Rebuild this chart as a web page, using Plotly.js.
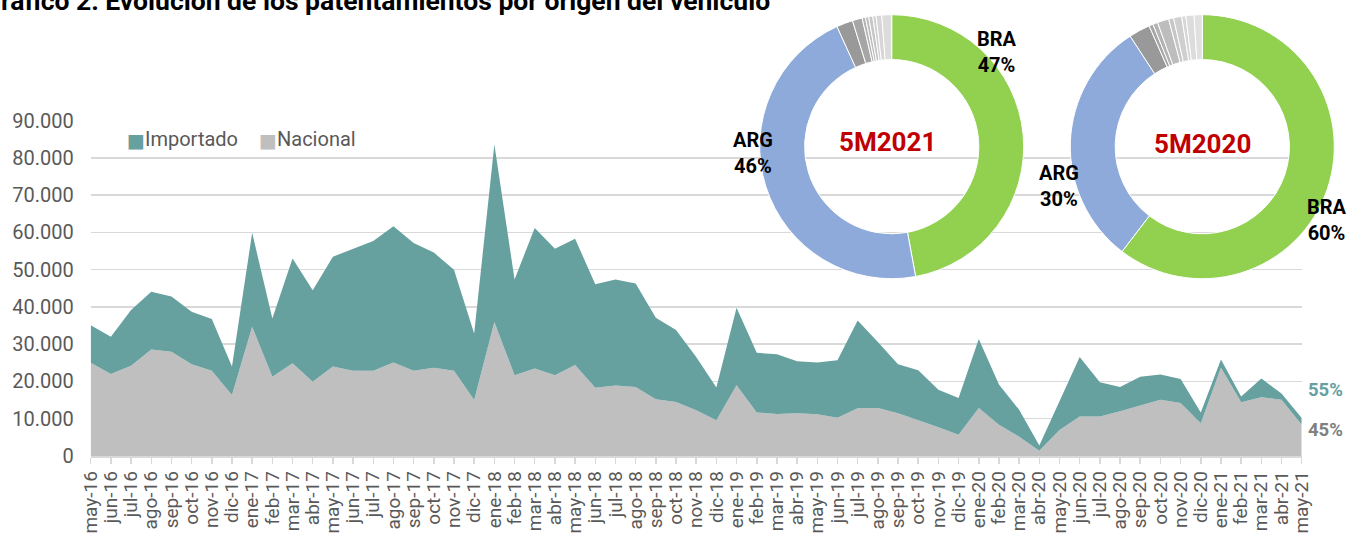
<!DOCTYPE html>
<html><head><meta charset="utf-8">
<script src="https://cdn.plot.ly/plotly-3.0.1.min.js"></script>
<style>html,body{margin:0;padding:0;background:#fff;overflow:hidden}</style>
</head><body><div id="chart" style="width:1347px;height:535px"></div>
<script>
const months = ['may-16','jun-16','jul-16','ago-16','sep-16','oct-16','nov-16','dic-16',
 'ene-17','feb-17','mar-17','abr-17','may-17','jun-17','jul-17','ago-17','sep-17','oct-17','nov-17','dic-17',
 'ene-18','feb-18','mar-18','abr-18','may-18','jun-18','jul-18','ago-18','sep-18','oct-18','nov-18','dic-18',
 'ene-19','feb-19','mar-19','abr-19','may-19','jun-19','jul-19','ago-19','sep-19','oct-19','nov-19','dic-19',
 'ene-20','feb-20','mar-20','abr-20','may-20','jun-20','jul-20','ago-20','sep-20','oct-20','nov-20','dic-20',
 'ene-21','feb-21','mar-21','abr-21','may-21'];
const nacional = [25000,22000,24200,28600,28000,24600,22900,16400,
 34700,21300,24900,19900,24000,22900,22900,25100,22900,23700,22900,15000,
 36000,21700,23500,21700,24400,18300,18900,18500,15200,14500,12300,9600,
 19000,11700,11300,11500,11200,10300,12800,12900,11500,9700,7700,5700,
 12900,8400,5200,1400,7000,10600,10600,12000,13500,15100,14200,8800,
 23700,14400,15800,15100,8400];
const importado = [10100,10000,15000,15500,14800,14100,13900,7600,
 25200,15600,28100,24600,29500,32600,34800,36600,34300,30900,27100,17900,
 47600,25700,37700,33900,33900,27800,28500,27800,21900,19300,14300,8800,
 20800,16000,16000,13900,13900,15400,23600,17700,13100,13300,10100,9900,
 18500,10800,7200,1400,7700,16000,9200,6500,7800,6800,6500,2900,
 2200,1600,5000,1700,1800];
const seriesNames = ['Nacional','Importado'];
const seriesColors = ['#bfbfbf','#66a09f'];

const pie2021Labels = ['BRA','ARG','O1','O2','O3','O4','O5','O6','O7','O8'];
const pie2021Values = [47.1,46.1,2.0,1.2,0.4,0.4,0.5,0.4,0.7,1.2];
const pie2020Labels = ['BRA','ARG','O1','O2','O3','O4','O5','O6','O7','O8','O9'];
const pie2020Values = [60.4,30.4,2.6,0.5,0.6,1.4,0.6,1.0,0.5,1.0,1.0];
const pieColors = ['#92d050','#8eaadb','#999999','#a6a6a6','#b3b3b3','#bdbdbd','#c6c6c6','#cfcfcf','#d6d6d6','#dcdcdc','#e0e0e0'];
const endLabels = ['55%','45%'];
const endColors = ['#66a09f','#808080'];

const W = 1347, H = 535;
const px = x => x / W;
const py = y => (H - y) / H;
const FONT = 'Roboto, "Liberation Sans", sans-serif';

const traces = [
  {x: months, y: nacional, name: seriesNames[0], type: 'scatter', mode: 'lines', stackgroup: 'one',
   line: {width: 0}, fillcolor: seriesColors[0], showlegend: false, hoverinfo: 'x+y'},
  {x: months, y: importado, name: seriesNames[1], type: 'scatter', mode: 'lines', stackgroup: 'one',
   line: {width: 0}, fillcolor: seriesColors[1], showlegend: false, hoverinfo: 'x+y'},
  {type: 'pie', labels: pie2021Labels, values: pie2021Values, sort: false, direction: 'clockwise', rotation: 0,
   hole: 0.66, textinfo: 'none', marker: {colors: pieColors, line: {color: '#ffffff', width: 1}},
   domain: {x: [px(759.7), px(1023.7)], y: [py(278.7), py(14.7)]}, showlegend: false},
  {type: 'pie', labels: pie2020Labels, values: pie2020Values, sort: false, direction: 'clockwise', rotation: 0,
   hole: 0.66, textinfo: 'none', marker: {colors: pieColors, line: {color: '#ffffff', width: 1}},
   domain: {x: [px(1070.3), px(1334.3)], y: [py(278.7), py(14.7)]}, showlegend: false}
];

const lblFont = {family: FONT, size: 20, color: '#000000'};
function pieLbl(lab, val, x, y) {
  return {text: '<b>' + lab + '<br>' + Math.round(val) + '%</b>', xref: 'paper', yref: 'paper',
    x: px(x), y: py(y), xanchor: 'center', yanchor: 'middle', showarrow: false, font: lblFont, align: 'center'};
}
function legSwatch(color, x, y) {
  return {text: '■', xref: 'paper', yref: 'paper', x: px(x), y: py(y), xanchor: 'center', yanchor: 'middle',
    showarrow: false, font: {family: '"DejaVu Sans", sans-serif', size: 19, color: color}};
}
function legText(t, x, y) {
  return {text: t, xref: 'paper', yref: 'paper', x: px(x), y: py(y), xanchor: 'left', yanchor: 'middle',
    showarrow: false, font: {family: FONT, size: 20, color: '#595959'}};
}
const annotations = [
  {text: '<b>Gráfico 2: Evolución de los patentamientos por origen del vehículo</b>', xref: 'paper', yref: 'paper',
   x: px(-19), y: py(0), xanchor: 'left', yanchor: 'middle', showarrow: false,
   font: {family: '"Liberation Sans Narrow", "Arial Narrow", Roboto, sans-serif', size: 26.5, color: '#000000'}},
  legSwatch(seriesColors[1], 136, 139.5), legText(seriesNames[1], 143, 139),
  legSwatch(seriesColors[0], 268, 139.5), legText(seriesNames[0], 275, 139),
  pieLbl(pie2021Labels[0], pie2021Values[0], 997, 51.5),
  pieLbl(pie2021Labels[1], pie2021Values[1], 753, 153),
  pieLbl(pie2020Labels[1], pie2020Values[1], 1059, 186.5),
  pieLbl(pie2020Labels[0], pie2020Values[0], 1327, 220),
  {text: '<b>5M2021</b>', xref: 'paper', yref: 'paper', x: px(888), y: py(142), xanchor: 'center', yanchor: 'middle',
   showarrow: false, font: {family: FONT, size: 26, color: '#c00000'}},
  {text: '<b>5M2020</b>', xref: 'paper', yref: 'paper', x: px(1202), y: py(144), xanchor: 'center', yanchor: 'middle',
   showarrow: false, font: {family: FONT, size: 26, color: '#c00000'}},
  {text: '<b>' + endLabels[0] + '</b>', xref: 'paper', yref: 'paper', x: px(1306), y: py(390), xanchor: 'left', yanchor: 'middle',
   showarrow: false, font: {family: FONT, size: 18.5, color: endColors[0]}},
  {text: '<b>' + endLabels[1] + '</b>', xref: 'paper', yref: 'paper', x: px(1306), y: py(430), xanchor: 'left', yanchor: 'middle',
   showarrow: false, font: {family: FONT, size: 18.5, color: endColors[1]}}
];

const layout = {
  width: W, height: H,
  margin: {l: 0, r: 0, t: 0, b: 0, pad: 0},
  paper_bgcolor: '#ffffff', plot_bgcolor: 'rgba(0,0,0,0)',
  separators: ',.',
  font: {family: FONT, color: '#595959', size: 20},
  xaxis: {type: 'category', range: [0, months.length - 1], domain: [px(90.7), px(1301.7)],
    tickmode: 'array', tickvals: months, ticktext: months,
    tickangle: -90, tickfont: {family: FONT, size: 19, color: '#595959'},
    ticks: 'outside', ticklen: 6, tickwidth: 1.5, tickcolor: '#d9d9d9',
    showgrid: false, showline: true, linecolor: '#d9d9d9', linewidth: 1.5, zeroline: false, fixedrange: true},
  yaxis: {range: [0, 90000], dtick: 10000, tickformat: ',d', domain: [py(456), py(120.7)],
    tickfont: {family: FONT, size: 20, color: '#595959'}, ticklabelstandoff: 16,
    showgrid: true, gridcolor: '#d9d9d9', gridwidth: 1.5, zeroline: false, showline: false, fixedrange: true},
  showlegend: false,
  annotations: annotations
};
Plotly.newPlot('chart', traces, layout, {staticPlot: true, displayModeBar: false});
</script></body></html>
